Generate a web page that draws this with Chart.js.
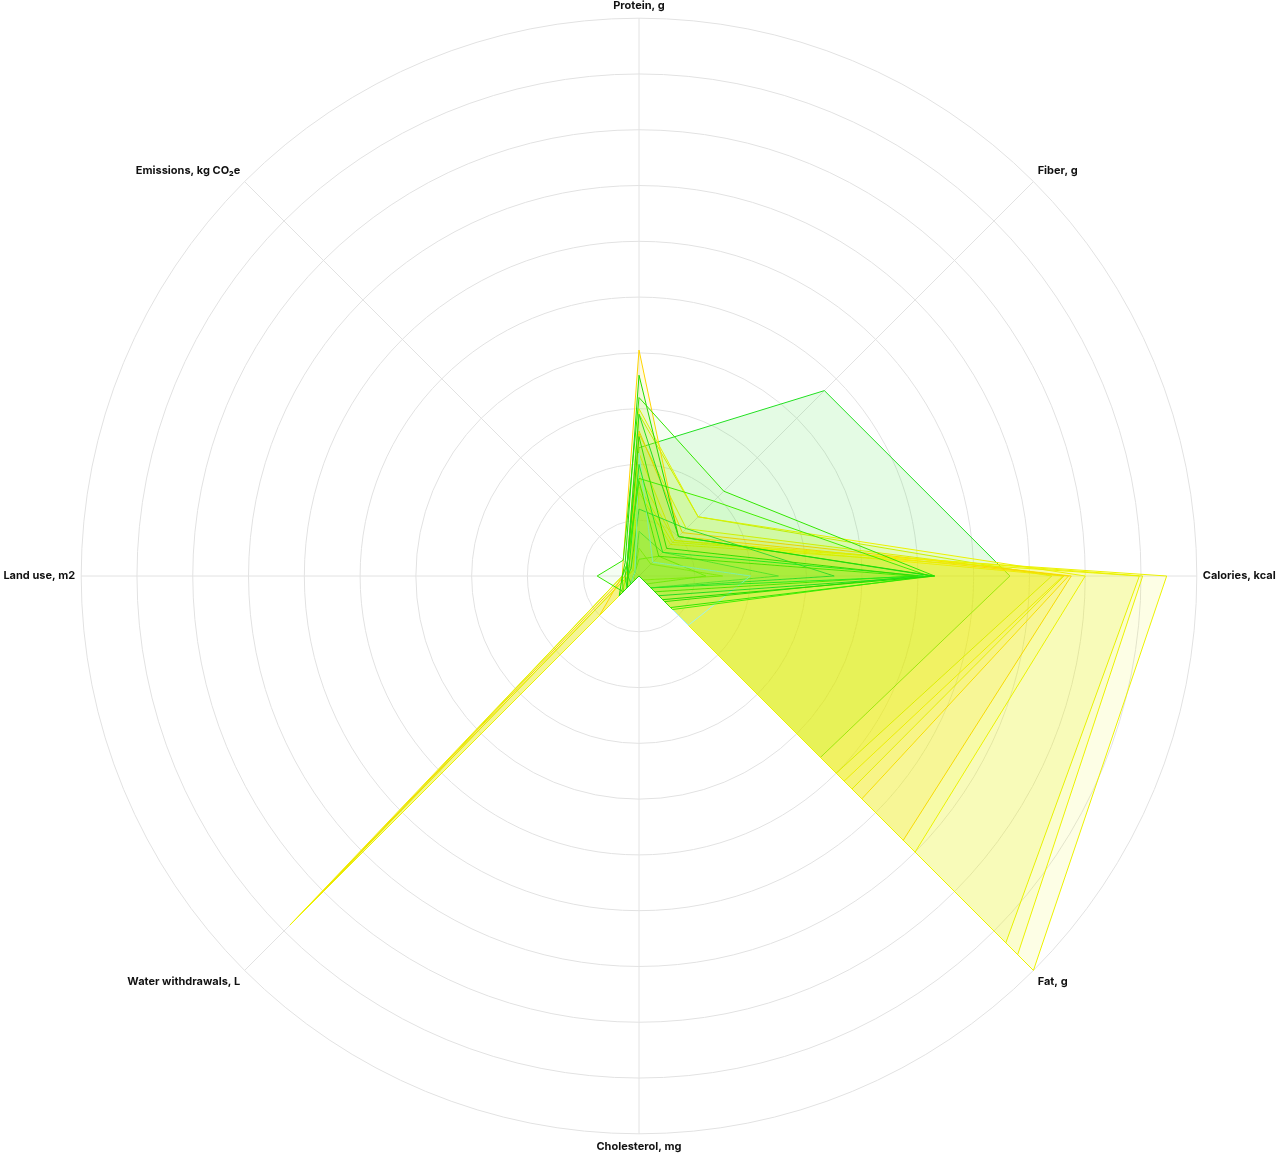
<!DOCTYPE html>
<html>
<head>
<meta charset="utf-8">
<script src="https://cdn.jsdelivr.net/npm/chart.js@4.4.1/dist/chart.umd.min.js"></script>
<style>
  html, body { margin: 0; padding: 0; background: #ffffff; overflow: hidden; }
  #wrap { width: 1280px; height: 1160px; position: relative; }
</style>
</head>
<body>
<div id="wrap"><canvas id="radar-chart"></canvas></div>
<script>
// 軸ラベル
const axisLabels = ['Protein, g', 'Fiber, g', 'Calories, kcal', 'Fat, g', 'Cholesterol, mg',
  'Water withdrawals, L', 'Land use, m2', 'Emissions, kg CO\u2082e'];

// 各食品の値 (0-10 に正規化)
const protein     = [1.6, 1.8, 1.5, 3.0, 2.6, 4.05, 2.55, 2.2, 2.9, 2.3, 3.6, 3.2, 2.9, 1.75, 2.5, 2.0, 1.7, 2.2, 0.3, 0.8, 0.5, 1.2];
const fiber       = [0.85, 0.9, 0.8, 1.5, 1.1, 1.0, 1.2, 0.9, 1.5, 4.7, 1.0, 2.15, 1.0, 1.9, 0.7, 0.6, 0.5, 0.35, 0.5, 0.6, 0.3, 1.2];
const calories    = [9.46, 9.03, 8.97, 8.0, 7.75, 7.7, 7.62, 7.6, 7.4, 6.65, 5.3, 5.3, 5.25, 5.2, 5.0, 5.1, 4.9, 2.0, 1.2, 2.5, 1.5, 3.5];
const fat         = [10.0, 9.6, 9.3, 7.0, 6.7, 5.65, 5.4, 5.2, 5.0, 4.6, 0.6, 0.8, 0.5, 0.85, 0.65, 0.3, 0.4, 1.25, 0.2, 0.3, 0.1, 0.3];
const cholesterol = [0, 0, 0, 0, 0, 0, 0, 0, 0, 0, 0, 0, 0, 0, 0, 0, 0, 0, 0, 0, 0, 0];
const water       = [0.3, 0.3, 0.4, 8.85, 8.7, 1.0, 8.5, 8.3, 8.0, 0.5, 0.5, 0.4, 0.3, 0.4, 0.3, 0.3, 0.3, 0.2, 0.2, 0.2, 0.1, 0.2];
const landUse     = [0.2, 0.2, 0.25, 0.3, 0.25, 0.3, 0.2, 0.2, 0.3, 0.2, 0.3, 0.75, 0.25, 0.3, 0.2, 0.2, 0.2, 0.1, 0.1, 0.1, 0.1, 0.2];
const emissions   = [0.15, 0.15, 0.2, 0.3, 0.25, 0.4, 0.25, 0.2, 0.3, 0.3, 0.35, 0.4, 0.3, 0.3, 0.3, 0.25, 0.3, 0.1, 0.1, 0.1, 0.1, 0.2];

// 線の色と塗りの透明度
const lineColors = ['#ecf200', '#ecf200', '#e6f000', '#ecf200', '#ffcc00', '#ffd400', '#dcf000', '#ecf200',
  '#c8f000', '#22e022', '#22dd00', '#33e600', '#22dd22', '#44ee00', '#33dd00', '#22ee22', '#55e600',
  '#9ff0ec', '#88ee00', '#66e633', '#aaee00', '#33dd33'];
const fillAlpha = [0.1, 0.1, 0.1, 0.1, 0.1, 0.1, 0.1, 0.1, 0.1, 0.12,
  0.05, 0.05, 0.05, 0.05, 0.05, 0.05, 0.05, 0.05, 0.05, 0.05, 0.05, 0.05];

function hexToRgba(hex, a) {
  const r = parseInt(hex.slice(1, 3), 16);
  const g = parseInt(hex.slice(3, 5), 16);
  const b = parseInt(hex.slice(5, 7), 16);
  return `rgba(${r}, ${g}, ${b}, ${a})`;
}

// データセットを作成 (小さい緑系を上に描画)
const datasets = protein.map((_, i) => ({
  label: `Food ${i + 1}`,
  data: [protein[i], fiber[i], calories[i], fat[i], cholesterol[i], water[i], landUse[i], emissions[i]],
  borderColor: lineColors[i],
  backgroundColor: hexToRgba(lineColors[i], fillAlpha[i]),
  borderWidth: 1,
  fill: true,
  pointRadius: 0,
  tension: 0,
  order: i < 10 ? 1 : 0
}));

const gridColor = '#e2e2e2';

new Chart(document.getElementById('radar-chart'), {
  type: 'radar',
  data: { labels: axisLabels, datasets: datasets },
  options: {
    responsive: true,
    maintainAspectRatio: false,
    animation: false,
    layout: { padding: { top: 0, bottom: 6, left: 0, right: 0 } },
    plugins: {
      legend: { display: false },
      tooltip: { enabled: false }
    },
    scales: {
      r: {
        min: 0,
        max: 10,
        ticks: { display: false, stepSize: 1 },
        grid: { circular: true, color: gridColor, lineWidth: 1 },
        angleLines: { color: gridColor, lineWidth: 1 },
        pointLabels: {
          color: '#111111',
          padding: 6,
          font: { family: "Inter, 'Noto Sans', sans-serif", size: 11, weight: 'bold' }
        }
      }
    }
  }
});
</script>
</body>
</html>
